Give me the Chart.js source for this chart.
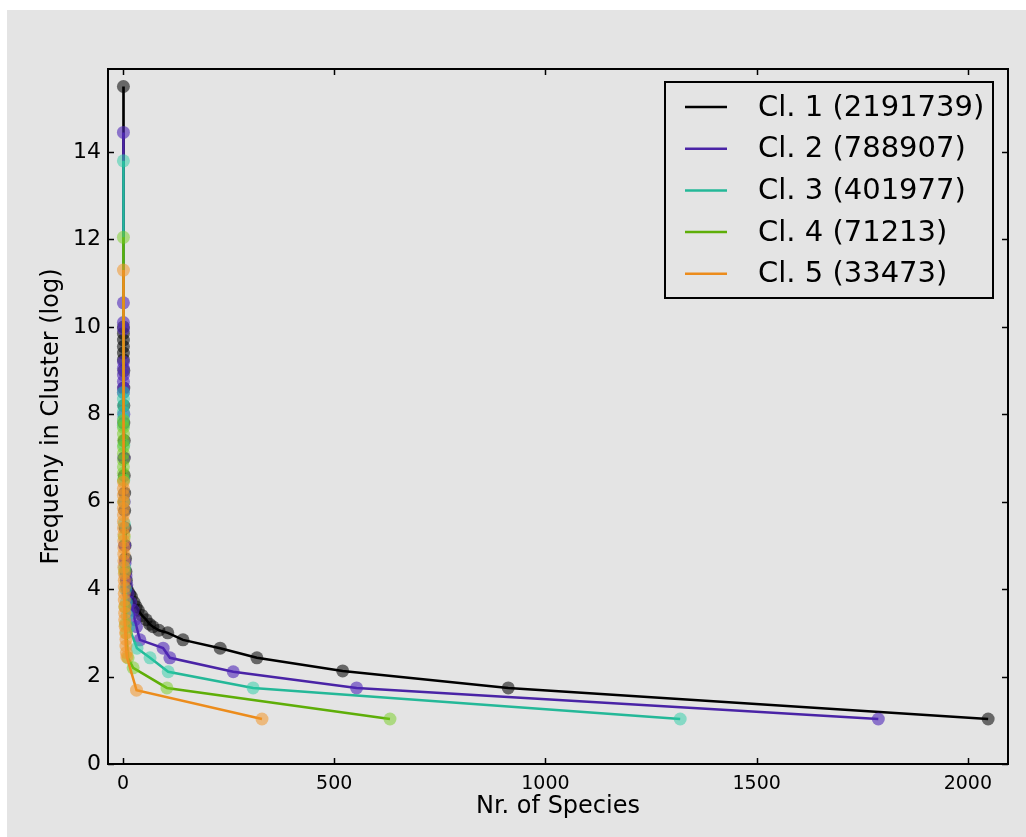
<!DOCTYPE html>
<html>
<head>
<meta charset="utf-8">
<script src="https://cdn.jsdelivr.net/npm/chart.js@4.4.1/dist/chart.umd.min.js"></script>
<style>
  html, body { margin: 0; padding: 0; background: #ffffff; }
  canvas { display: block; }
</style>
</head>
<body>
<canvas id="c" width="1026" height="837"></canvas>
<script>
// ---- data ----
const seriesLabels = ['Cl. 1 (2191739)', 'Cl. 2 (788907)', 'Cl. 3 (401977)', 'Cl. 4 (71213)', 'Cl. 5 (33473)'];

const cl1X = [1,1,1,1,1,1,1,2,2,2,2,3,3,3,4,4,5,5,6,7,8,9,12,16,20,26,31,36,45,55,63,71,85,106,142,230,317,520,912,2048];
const cl1Y = [15.5,10.0,9.85,9.7,9.55,9.4,9.25,9.0,8.6,8.2,7.8,7.4,7.0,6.6,6.2,5.8,5.4,5.0,4.7,4.4,4.2,4.03,3.95,3.88,3.83,3.7,3.6,3.52,3.4,3.3,3.2,3.14,3.06,3.0,2.84,2.65,2.43,2.13,1.74,1.03];

const cl2X = [1,1,1,1,1,1,1,1,1,1,2,2,3,4,5,7,9,12,18,24,28,32,40,95,111,261,553,1788];
const cl2Y = [14.45,10.55,10.1,9.95,9.2,9.05,8.9,8.75,8.6,8.5,8.0,7.0,6.0,5.0,4.6,4.3,4.1,3.9,3.7,3.52,3.3,3.14,2.84,2.65,2.43,2.11,1.74,1.03];

const cl3X = [1,1,1,1,1,1,1,2,2,3,4,6,8,10,14,33,64,107,308,1319];
const cl3Y = [13.8,8.5,8.35,8.2,8.05,7.9,7.75,7.3,6.5,5.5,4.5,4.0,3.7,3.4,3.14,2.65,2.43,2.11,1.74,1.03];

const cl4X = [1,1,1,1,1,1,1,1,1,1,1,2,3,4,5,6,8,12,24,104,632];
const cl4Y = [12.05,7.85,7.7,7.55,7.4,7.25,7.1,6.95,6.8,6.65,6.5,6.0,5.2,4.4,3.6,3.2,3.0,2.43,2.2,1.74,1.03];

const cl5X = [1,1,1,1,1,1,1,1,1,2,2,2,2,2,2,3,3,3,3,3,4,4,4,5,6,7,7,8,9,32,329];
const cl5Y = [11.3,6.45,6.3,6.15,6.0,5.85,5.7,5.55,5.4,5.25,5.1,4.95,4.8,4.65,4.5,4.35,4.2,4.05,3.9,3.75,3.6,3.45,3.3,3.15,3.0,2.85,2.7,2.55,2.45,1.69,1.03];

const xTicks = [0, 500, 1000, 1500, 2000];
const yTicks = [0, 2, 4, 6, 8, 10, 12, 14];

// ---- styles ----
const lineColors   = ['#000000', '#4a24a6', '#24b898', '#5eae08', '#ec8c1c'];
const markerColors = ['rgba(0,0,0,0.55)', 'rgba(80,40,185,0.6)', 'rgba(40,205,165,0.5)', 'rgba(115,205,30,0.5)', 'rgba(242,150,40,0.55)'];
const FONT = "'DejaVu Sans', 'Liberation Sans', sans-serif";

function pts(xs, ys) { return xs.map((x, i) => ({ x: x, y: ys[i] })); }
const allX = [cl1X, cl2X, cl3X, cl4X, cl5X];
const allY = [cl1Y, cl2Y, cl3Y, cl4Y, cl5Y];

const datasets = seriesLabels.map((lab, i) => ({
  label: lab,
  data: pts(allX[i], allY[i]),
  showLine: true,
  borderColor: lineColors[i],
  borderWidth: 2.5,
  tension: 0,
  pointRadius: 6.5,
  pointBorderWidth: 0,
  pointBackgroundColor: markerColors[i],
  pointBorderColor: 'rgba(0,0,0,0)',
  order: 5 - i
}));

const bgPlugin = {
  id: 'bg',
  beforeDraw(chart) {
    const ctx = chart.ctx;
    ctx.save();
    ctx.fillStyle = '#ffffff';
    ctx.fillRect(0, 0, chart.width, chart.height);
    ctx.fillStyle = '#e4e4e4';
    ctx.fillRect(7, 10, chart.width - 7, chart.height - 10);
    ctx.restore();
  }
};

const framePlugin = {
  id: 'frame',
  afterDraw(chart) {
    const ctx = chart.ctx;
    const a = chart.chartArea;
    const xs = chart.scales.x, ys = chart.scales.y;
    ctx.save();
    ctx.strokeStyle = '#000';
    ctx.lineWidth = 1.5;
    const tl = 6;
    ctx.beginPath();
    xs.ticks.forEach(t => {
      const px = Math.round(xs.getPixelForValue(t.value)) + 0.5;
      ctx.moveTo(px, a.bottom); ctx.lineTo(px, a.bottom - tl);
      ctx.moveTo(px, a.top); ctx.lineTo(px, a.top + tl);
    });
    ys.ticks.forEach(t => {
      const py = Math.round(ys.getPixelForValue(t.value)) + 0.5;
      ctx.moveTo(a.left, py); ctx.lineTo(a.left + tl, py);
      ctx.moveTo(a.right, py); ctx.lineTo(a.right - tl, py);
    });
    ctx.stroke();
    ctx.lineWidth = 2;
    ctx.strokeRect(a.left, a.top, a.right - a.left, a.bottom - a.top);

    // legend (upper right, inside the axes)
    const bw = 328, bh = 216;
    const bx = a.right - 15 - bw, by = a.top + 13;
    ctx.lineWidth = 2;
    ctx.strokeStyle = '#000';
    ctx.strokeRect(bx, by, bw, bh);
    ctx.font = '29px ' + FONT;
    ctx.textBaseline = 'middle';
    ctx.textAlign = 'left';
    chart.data.datasets.forEach((ds, i) => {
      const cy = by + 25 + i * 41.7;
      ctx.strokeStyle = ds.borderColor;
      ctx.lineWidth = 2.5;
      ctx.beginPath();
      ctx.moveTo(bx + 20, cy); ctx.lineTo(bx + 62, cy);
      ctx.stroke();
      ctx.fillStyle = '#000';
      ctx.fillText(ds.label, bx + 93, cy + 1);
    });
    ctx.restore();
  }
};

new Chart(document.getElementById('c'), {
  type: 'scatter',
  data: { datasets: datasets },
  plugins: [bgPlugin, framePlugin],
  options: {
    responsive: false,
    animation: false,
    devicePixelRatio: 1,
    layout: { padding: { top: 69, right: 18, left: 0, bottom: 0 } },
    plugins: { legend: { display: false }, tooltip: { enabled: false } },
    scales: {
      x: {
        type: 'linear',
        min: -35.5,
        max: 2095,
        grid: { display: false, drawTicks: false },
        border: { display: false },
        afterBuildTicks(scale) { scale.ticks = xTicks.map(v => ({ value: v })); },
        afterFit(scale) { scale.height = 73; },
        ticks: {
          color: '#000',
          padding: 9,
          font: { family: FONT, size: 19 },
          callback: v => String(v)
        },
        title: {
          display: true,
          text: 'Nr. of Species',
          color: '#000',
          font: { family: FONT, size: 24 },
          padding: { top: 0, bottom: 16 }
        }
      },
      y: {
        type: 'linear',
        min: 0,
        max: 15.9,
        grid: { display: false, drawTicks: false },
        border: { display: false },
        afterBuildTicks(scale) { scale.ticks = yTicks.map(v => ({ value: v })); },
        afterFit(scale) { scale.width = 108; },
        ticks: {
          color: '#000',
          padding: 7,
          font: { family: FONT, size: 22 },
          callback: v => String(v)
        },
        title: {
          display: true,
          text: 'Frequeny in Cluster (log)',
          color: '#000',
          font: { family: FONT, size: 24 },
          padding: { top: 37, bottom: 0 }
        }
      }
    }
  }
});
</script>
</body>
</html>
